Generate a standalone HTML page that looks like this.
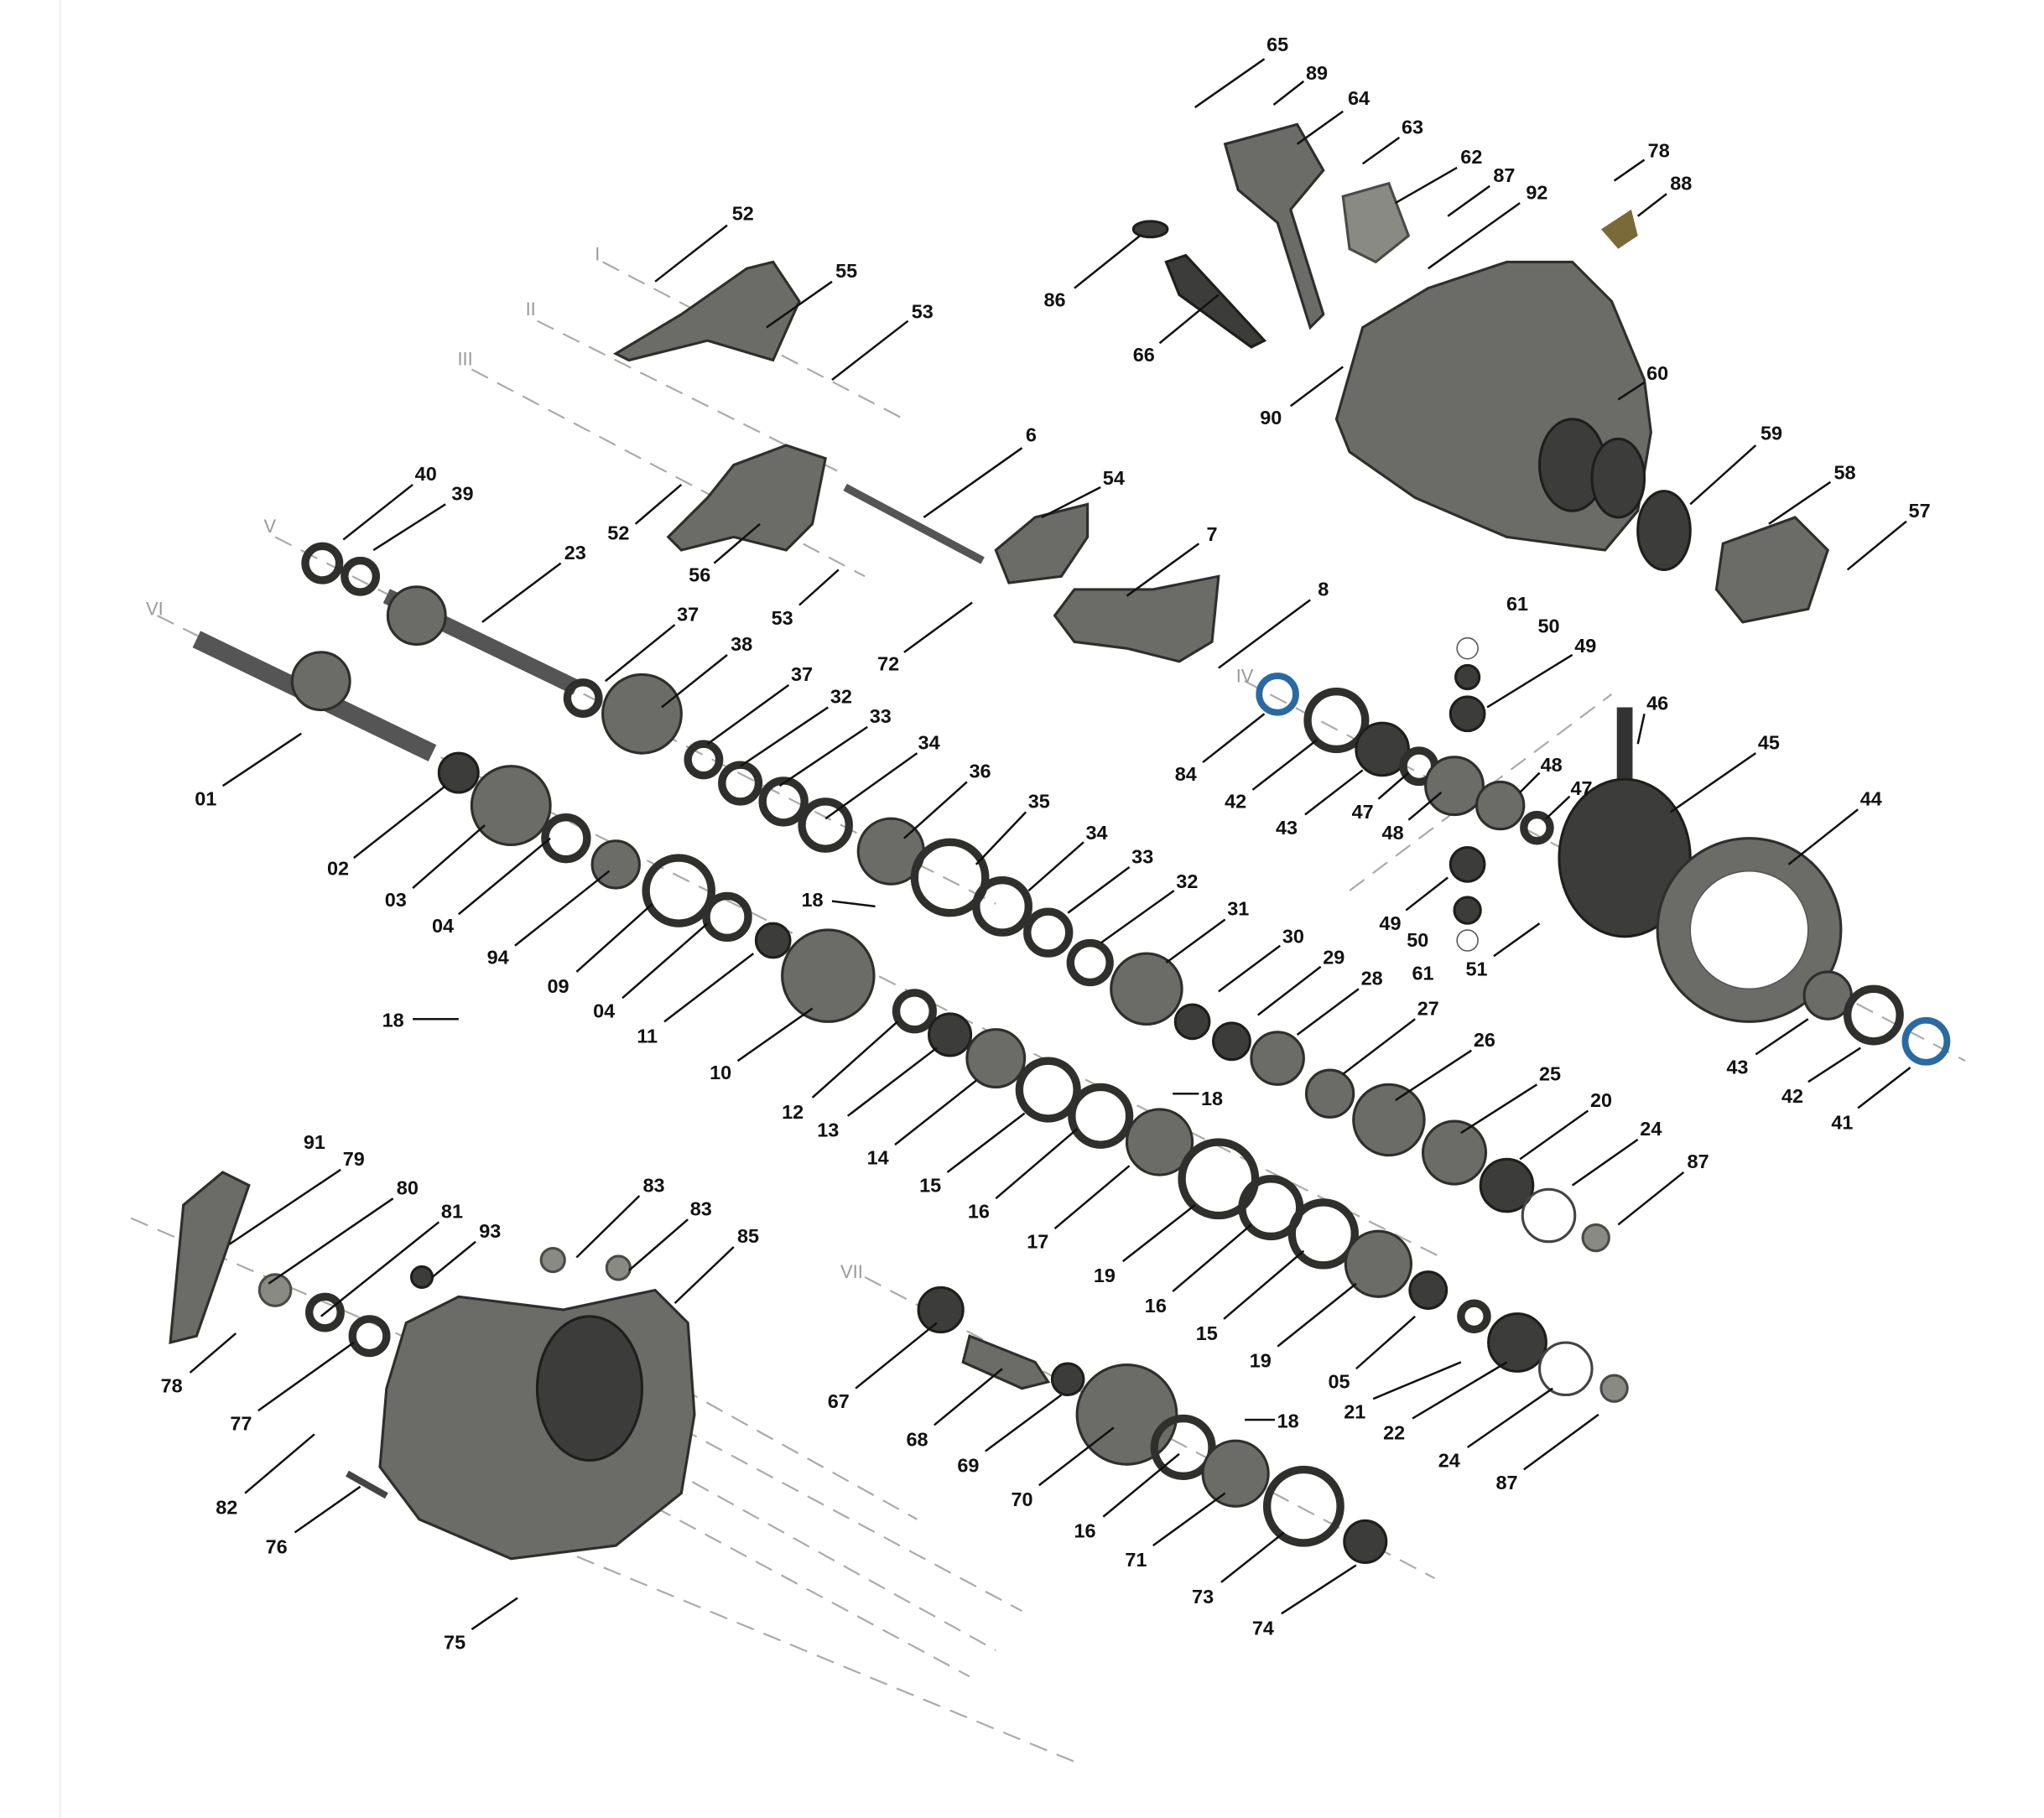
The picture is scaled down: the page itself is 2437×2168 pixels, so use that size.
<!DOCTYPE html>
<html><head><meta charset="utf-8"><style>
html,body{margin:0;padding:0;background:#fff;}
svg{display:block;}
text{font-family:"Liberation Sans",Arial,sans-serif;font-weight:bold;font-size:15px;fill:#111;text-anchor:middle;dominant-baseline:middle;}
text.r{fill:#999;font-weight:normal;font-size:14px;}
.l{stroke:#111;stroke-width:1.6;fill:none;}
.d{stroke:#aaa;stroke-width:1.4;stroke-dasharray:14 8;fill:none;}
.g{fill:#6b6b68;stroke:#2e2e2c;stroke-width:2;}
.k{fill:#3c3c3a;stroke:#1e1e1d;stroke-width:2;}
.ring{fill:none;stroke:#2f2f2d;stroke-width:6;}
.c{fill:#8a8a85;stroke:#4a4a47;stroke-width:2;}
</style></head><body>
<svg width="2437" height="2168" viewBox="0 0 1560 1388" preserveAspectRatio="none" xmlns="http://www.w3.org/2000/svg">
<rect width="1560" height="1388" fill="#fff"/>
<line x1="46" y1="0" x2="46" y2="1388" stroke="#f0f0f0" stroke-width="1.5"/>
<!-- dashed axes -->
<line class="d" x1="460" y1="200" x2="690" y2="320"/>
<line class="d" x1="410" y1="245" x2="640" y2="360"/>
<line class="d" x1="360" y1="282" x2="660" y2="440"/>
<line class="d" x1="210" y1="410" x2="760" y2="690"/>
<line class="d" x1="120" y1="470" x2="1100" y2="960"/>
<line class="d" x1="950" y1="520" x2="1500" y2="810"/>
<line class="d" x1="1030" y1="680" x2="1230" y2="530"/>
<line class="d" x1="100" y1="930" x2="330" y2="1030"/>
<line class="d" x1="660" y1="975" x2="1095" y2="1205"/>
<line class="d" x1="500" y1="1080" x2="780" y2="1230"/>
<line class="d" x1="490" y1="1110" x2="760" y2="1260"/>
<line class="d" x1="480" y1="1140" x2="740" y2="1280"/>
<line class="d" x1="420" y1="1180" x2="820" y2="1345"/>
<line class="d" x1="520" y1="1060" x2="700" y2="1160"/>

<!-- main casing top right -->
<path class="g" d="M1020,320 L1040,250 L1090,220 L1150,200 L1200,200 L1230,230 L1255,290 L1260,330 L1250,390 L1225,420 L1150,410 L1080,380 L1030,345 Z"/>
<ellipse cx="1200" cy="355" rx="25" ry="35" class="k"/><ellipse cx="1235" cy="365" rx="20" ry="30" class="k"/>
<!-- selector -->
<path class="g" d="M935,110 L990,95 L1010,130 L985,160 L1010,240 L1000,250 L975,170 L945,145 Z"/>
<path class="k" d="M890,200 L905,195 L965,260 L955,265 L900,225 Z"/>
<ellipse cx="878" cy="175" rx="13" ry="6" class="k"/>
<path class="c" d="M1025,150 L1060,140 L1075,180 L1050,200 L1030,190 Z"/>
<path d="M1222,175 L1245,160 L1250,180 L1235,190 Z" fill="#7a6a3a"/>
<ellipse cx="1270" cy="405" rx="20" ry="30" class="k"/>
<path class="g" d="M1315,415 L1370,395 L1395,420 L1380,465 L1330,475 L1310,450 Z"/>
<!-- forks -->
<path class="g" d="M470,270 L520,240 L570,205 L590,200 L610,230 L590,275 L540,260 L480,275 Z"/>
<path class="g" d="M510,410 L540,380 L560,355 L600,340 L630,350 L620,400 L600,420 L560,410 L520,420 Z"/>
<path class="g" d="M760,420 L790,395 L830,385 L830,410 L810,440 L770,445 Z"/>
<path class="g" d="M805,470 L820,450 L880,450 L930,440 L925,490 L900,505 L860,495 L820,490 Z"/>
<line x1="645" y1="372" x2="750" y2="428" stroke="#555" stroke-width="6"/>
<!-- shafts -->
<line x1="150" y1="488" x2="330" y2="575" stroke="#555" stroke-width="14"/>
<line x1="295" y1="455" x2="440" y2="525" stroke="#555" stroke-width="12"/>
<circle cx="245" cy="520" r="22" class="g"/>
<circle cx="318" cy="470" r="22" class="g"/>
<!-- gears / rings along axes -->
<g>
<circle cx="246" cy="430" r="13" class="ring"/><circle cx="275" cy="440" r="12" class="ring"/>
<circle cx="445" cy="533" r="12" class="ring"/><circle cx="490" cy="545" r="30" class="g"/>
<circle cx="537" cy="580" r="12" class="ring"/><circle cx="565" cy="598" r="14" class="ring"/>
<circle cx="598" cy="612" r="16" class="ring"/><circle cx="630" cy="630" r="18" class="ring"/>
<circle cx="680" cy="650" r="25" class="g"/><circle cx="725" cy="670" r="27" class="ring"/>
<circle cx="765" cy="692" r="20" class="ring"/><circle cx="800" cy="712" r="16" class="ring"/>
<circle cx="832" cy="735" r="15" class="ring"/><circle cx="875" cy="755" r="27" class="g"/>
<circle cx="910" cy="780" r="13" class="k"/><circle cx="940" cy="795" r="14" class="k"/>
<circle cx="975" cy="808" r="20" class="g"/><circle cx="1015" cy="835" r="18" class="g"/>
<circle cx="1060" cy="855" r="27" class="g"/><circle cx="1110" cy="880" r="24" class="g"/>
<circle cx="1150" cy="905" r="20" class="k"/><circle cx="1182" cy="928" r="20" fill="none" stroke="#444" stroke-width="2"/>
<circle cx="1218" cy="945" r="10" class="c"/>
<circle cx="350" cy="590" r="15" class="k"/><circle cx="390" cy="615" r="30" class="g"/>
<circle cx="432" cy="640" r="16" class="ring"/><circle cx="470" cy="660" r="18" class="g"/>
<circle cx="518" cy="680" r="25" class="ring"/><circle cx="555" cy="700" r="16" class="ring"/>
<circle cx="590" cy="718" r="13" class="k"/><circle cx="632" cy="745" r="35" class="g"/>
<circle cx="698" cy="772" r="14" class="ring"/><circle cx="725" cy="790" r="16" class="k"/>
<circle cx="760" cy="808" r="22" class="g"/><circle cx="800" cy="832" r="22" class="ring"/>
<circle cx="840" cy="852" r="22" class="ring"/><circle cx="885" cy="872" r="25" class="g"/>
<circle cx="930" cy="900" r="28" class="ring"/><circle cx="970" cy="922" r="22" class="ring"/>
<circle cx="1010" cy="942" r="24" class="ring"/><circle cx="1052" cy="965" r="25" class="g"/>
<circle cx="1090" cy="985" r="14" class="k"/><circle cx="1125" cy="1005" r="10" class="ring"/>
<circle cx="1158" cy="1025" r="22" class="k"/><circle cx="1195" cy="1045" r="20" fill="none" stroke="#444" stroke-width="2"/>
<circle cx="1232" cy="1060" r="10" class="c"/>
<circle cx="975" cy="530" r="14" fill="none" stroke="#2a6aa0" stroke-width="5"/>
<circle cx="1020" cy="550" r="22" class="ring"/><circle cx="1055" cy="572" r="20" class="k"/>
<circle cx="1083" cy="585" r="12" class="ring"/><circle cx="1110" cy="600" r="22" class="g"/>
<circle cx="1145" cy="615" r="18" class="g"/><circle cx="1173" cy="632" r="10" class="ring"/>
<line x1="1240" y1="540" x2="1240" y2="610" stroke="#333" stroke-width="12"/>
<ellipse cx="1240" cy="655" rx="50" ry="60" class="k"/>
<circle cx="1335" cy="710" r="70" class="g"/><circle cx="1335" cy="710" r="45" fill="#fff" stroke="#555"/>
<circle cx="1395" cy="760" r="18" class="g"/><circle cx="1430" cy="775" r="20" class="ring"/>
<circle cx="1470" cy="795" r="16" fill="none" stroke="#2a6aa0" stroke-width="5"/>
<circle cx="1120" cy="495" r="8" fill="none" stroke="#555"/><circle cx="1120" cy="517" r="9" class="k"/>
<circle cx="1120" cy="545" r="13" class="k"/><circle cx="1120" cy="660" r="13" class="k"/>
<circle cx="1120" cy="695" r="10" class="k"/><circle cx="1120" cy="718" r="8" fill="none" stroke="#555"/>
<!-- bottom shaft VII -->
<circle cx="718" cy="1000" r="17" class="k"/><path class="g" d="M740,1020 L790,1040 L800,1055 L780,1060 L735,1040 Z"/>
<circle cx="815" cy="1053" r="12" class="k"/><circle cx="860" cy="1080" r="38" class="g"/>
<circle cx="903" cy="1105" r="22" class="ring"/><circle cx="943" cy="1125" r="25" class="g"/>
<circle cx="995" cy="1150" r="28" class="ring"/><circle cx="1042" cy="1177" r="16" class="k"/>
<!-- left clutch parts -->
<path class="g" d="M140,920 L170,895 L190,905 L150,1020 L130,1025 Z"/>
<circle cx="210" cy="985" r="12" class="c"/><circle cx="248" cy="1002" r="12" class="ring"/>
<circle cx="282" cy="1020" r="13" class="ring"/>
<circle cx="422" cy="962" r="9" class="c"/><circle cx="472" cy="968" r="9" class="c"/>
<circle cx="322" cy="975" r="8" class="k"/>
<!-- bottom casing -->
<path class="g" d="M310,1010 L350,990 L430,1000 L500,985 L525,1010 L530,1080 L520,1140 L470,1180 L390,1190 L320,1160 L290,1120 L295,1060 Z"/>
<ellipse cx="450" cy="1060" rx="40" ry="55" class="k"/>
<line x1="265" y1="1125" x2="295" y2="1142" stroke="#444" stroke-width="5"/>
</g>

<!-- leader lines -->
<g class="l">
<path d="M912 82L965 45M972 80L995 62M990 110L1025 85M1040 125L1068 105M1065 155L1112 128M1105 165L1137 142M1090 205L1160 155M1232 138L1255 122M1250 165L1272 148"/>
<path d="M820 220L870 180M885 262L930 225M985 310L1025 280M1235 305L1255 292M1290 385L1340 340M1350 400L1397 368M1410 435L1455 398"/>
<path d="M500 215L555 172M585 250L635 215M635 290L693 245M705 395L780 342M795 395L840 372M485 400L520 370M545 430L580 400M610 462L640 435M860 455L915 415"/>
<path d="M262 412L315 370M285 420L340 385M368 475L428 430M462 520L515 477M505 540L555 500M540 568L602 523M565 585L632 540M595 600L662 555M630 625L700 575M690 640L738 597M745 660L783 620M785 680L827 643M815 697L862 662M840 720L896 680M890 735L935 702M930 757L977 722M960 775L1008 738M990 790L1037 755M1025 820L1080 778M1065 840L1123 802M1115 865L1173 828M1160 885L1212 848M1200 905L1250 870M1235 935L1285 895"/>
<path d="M930 510L1000 458M690 498L742 460M170 600L230 560M270 655L340 600M315 678L370 630M350 698L420 640M393 722L465 665M315 778L350 778M440 742L498 690M475 762L540 705M507 780L575 728M563 810L620 770M635 688L668 692"/>
<path d="M620 838L685 780M647 852L715 800M683 874L745 825M723 895L782 850M760 915L822 862M805 938L862 890M895 835L915 835M857 963L912 920M895 986L955 935M934 1007L995 955M975 1028L1035 980M1035 1045L1080 1005M1048 1068L1115 1040M1078 1083L1150 1040M1120 1105L1185 1060M1163 1122L1220 1080"/>
<path d="M918 582L965 545M956 603L1005 565M996 622L1040 588M1052 610L1075 590M1075 626L1100 605M1135 540L1200 500M1250 568L1255 545M1160 605L1175 590M1180 625L1198 608M1275 620L1340 575M1365 660L1418 618M1073 695L1105 670M1140 730L1175 705M1340 805L1380 778M1380 826L1420 800M1418 846L1458 815"/>
<path d="M175 950L260 893M205 980L300 915M245 1005L335 933M330 975L363 948M440 960L488 913M480 970L525 931M515 995L560 952M145 1048L180 1018M197 1077L270 1025M187 1140L240 1095M225 1170L275 1135M360 1244L395 1220"/>
<path d="M653 1060L715 1010M713 1088L765 1045M752 1108L810 1065M793 1134L850 1090M842 1158L900 1110M950 1084L973 1084M880 1180L935 1140M932 1208L980 1170M978 1232L1035 1195"/>
</g>

<!-- labels -->
<g>
<text x="975" y="35">65</text><text x="1005" y="57">89</text><text x="1037" y="76">64</text><text x="1078" y="98">63</text><text x="1123" y="121">62</text><text x="1148" y="135">87</text><text x="1173" y="148">92</text><text x="1266" y="116">78</text><text x="1283" y="141">88</text>
<text x="805" y="230">86</text><text x="873" y="272">66</text><text x="970" y="320">90</text><text x="1265" y="286">60</text><text x="1352" y="332">59</text><text x="1408" y="362">58</text><text x="1465" y="391">57</text>
<text x="567" y="164">52</text><text class="r" x="456" y="195">I</text><text x="646" y="208">55</text><text class="r" x="405" y="237">II</text><text x="704" y="239">53</text><text class="r" x="355" y="275">III</text>
<text x="787" y="333">6</text><text x="850" y="366">54</text><text x="472" y="408">52</text><text x="534" y="440">56</text><text x="597" y="473">53</text><text x="925" y="409">7</text>
<text x="325" y="363">40</text><text x="353" y="378">39</text><text class="r" x="206" y="403">V</text><text x="439" y="423">23</text><text class="r" x="118" y="466">VI</text>
<text x="525" y="470">37</text><text x="566" y="493">38</text><text x="612" y="516">37</text><text x="642" y="533">32</text><text x="672" y="548">33</text><text x="709" y="568">34</text><text x="748" y="590">36</text><text x="793" y="613">35</text><text x="837" y="637">34</text><text x="872" y="655">33</text><text x="906" y="674">32</text><text x="945" y="695">31</text><text x="987" y="716">30</text><text x="1018" y="732">29</text><text x="1047" y="748">28</text><text x="1090" y="771">27</text><text x="1133" y="795">26</text><text x="1183" y="821">25</text><text x="1222" y="841">20</text><text x="1260" y="863">24</text><text x="1296" y="888">87</text>
<text x="1010" y="451">8</text><text x="678" y="508">72</text><text x="157" y="611">01</text><text x="258" y="664">02</text><text x="302" y="688">03</text><text x="338" y="708">04</text><text x="380" y="732">94</text><text x="300" y="780">18</text><text x="426" y="754">09</text><text x="461" y="773">04</text><text x="494" y="792">11</text><text x="550" y="820">10</text><text x="620" y="688">18</text>
<text x="605" y="850">12</text><text x="632" y="864">13</text><text x="670" y="885">14</text><text x="710" y="906">15</text><text x="747" y="926">16</text><text x="792" y="949">17</text><text x="925" y="840">18</text><text x="843" y="975">19</text><text x="882" y="998">16</text><text x="921" y="1019">15</text><text x="962" y="1040">19</text><text x="1022" y="1056">05</text><text x="1034" y="1079">21</text><text x="1064" y="1095">22</text><text x="1106" y="1116">24</text><text x="1150" y="1133">87</text>
<text class="r" x="950" y="517">IV</text><text x="905" y="592">84</text><text x="943" y="613">42</text><text x="982" y="633">43</text><text x="1040" y="621">47</text><text x="1063" y="637">48</text><text x="1158" y="462">61</text><text x="1182" y="479">50</text><text x="1210" y="494">49</text><text x="1265" y="538">46</text><text x="1184" y="585">48</text><text x="1207" y="603">47</text><text x="1350" y="568">45</text><text x="1428" y="611">44</text><text x="1061" y="706">49</text><text x="1082" y="719">50</text><text x="1086" y="744">61</text><text x="1127" y="741">51</text><text x="1326" y="816">43</text><text x="1368" y="838">42</text><text x="1406" y="858">41</text>
<text x="240" y="873">91</text><text x="270" y="886">79</text><text x="311" y="908">80</text><text x="345" y="926">81</text><text x="374" y="941">93</text><text x="499" y="906">83</text><text x="535" y="924">83</text><text x="571" y="945">85</text><text x="131" y="1059">78</text><text x="184" y="1088">77</text><text x="173" y="1152">82</text><text x="211" y="1182">76</text><text x="347" y="1255">75</text>
<text class="r" x="650" y="972">VII</text><text x="640" y="1071">67</text><text x="700" y="1100">68</text><text x="739" y="1120">69</text><text x="780" y="1146">70</text><text x="828" y="1170">16</text><text x="983" y="1086">18</text><text x="867" y="1192">71</text><text x="918" y="1220">73</text><text x="964" y="1244">74</text>
</g>
</svg>
</body></html>
